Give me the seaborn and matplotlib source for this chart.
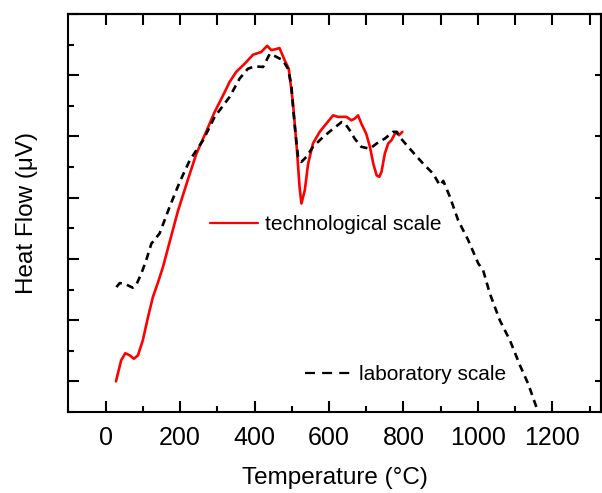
import matplotlib
matplotlib.use("Agg")
import matplotlib.pyplot as plt
import seaborn as sns
import pandas as pd
from matplotlib.lines import Line2D

# ---- data ----
tech_temp = [28, 35, 42, 53, 65, 76, 87, 100, 114, 127, 141, 154, 172, 194, 220, 244, 270, 293,
             320, 333, 351, 374, 396, 418, 434, 445, 457, 467, 481, 492, 503, 514, 521, 526, 535,
             544, 557, 575, 593, 611, 624, 647, 660, 669, 678, 687, 700, 710, 719, 728, 735, 741,
             750, 759, 768, 777, 783, 788, 797]
tech_flow = [0.0, 0.35, 0.69, 0.92, 0.85, 0.74, 0.85, 1.34, 2.1, 2.75, 3.24, 3.73, 4.55, 5.55,
             6.55, 7.44, 8.15, 8.8, 9.45, 9.78, 10.11, 10.38, 10.67, 10.76, 10.96, 10.82, 10.85,
             10.89, 10.49, 10.21, 9.13, 7.55, 6.35, 5.81, 6.24, 7.11, 7.77, 8.15, 8.42, 8.69,
             8.64, 8.64, 8.53, 8.58, 8.69, 8.42, 8.09, 7.66, 7.11, 6.73, 6.68, 6.84, 7.44, 7.77,
             7.88, 8.09, 8.15, 8.04, 8.15]

lab_temp = [29, 38, 51, 73, 82, 96, 109, 123, 145, 172, 199, 226, 262, 293, 333, 360, 382, 400,
            423, 441, 454, 476, 490, 499, 503, 510, 517, 526, 539, 557, 584, 611, 634, 642, 656,
            669, 687, 710, 728, 750, 772, 781, 790, 817, 853, 880, 898, 907, 925, 947, 974, 1001,
            1014, 1032, 1059, 1086, 1113, 1135, 1162]
lab_flow = [3.08, 3.21, 3.19, 3.06, 3.14, 3.52, 3.95, 4.5, 4.83, 5.7, 6.51, 7.22, 7.88, 8.64,
            9.29, 9.89, 10.21, 10.29, 10.27, 10.7, 10.63, 10.49, 10.21, 9.67, 9.02, 8.1, 7.33,
            7.17, 7.33, 7.66, 7.98, 8.25, 8.47, 8.44, 8.2, 7.93, 7.66, 7.6, 7.77, 7.93, 8.15,
            8.15, 7.98, 7.6, 7.11, 6.78, 6.4, 6.55, 6.02, 5.26, 4.61, 3.85, 3.63, 2.87, 1.99,
            1.34, 0.52, -0.08, -1.01]

x_ticks = [0, 200, 400, 600, 800, 1000, 1200]
x_tick_labels = ["0", "200", "400", "600", "800", "1000", "1200"]
series_names = ["technological scale", "laboratory scale"]

tech = pd.DataFrame({"Temperature": tech_temp, "Heat Flow": tech_flow})
lab = pd.DataFrame({"Temperature": lab_temp, "Heat Flow": lab_flow})

sns.set_style("ticks")
plt.rcParams["font.family"] = ["Liberation Sans", "DejaVu Sans"]
plt.rcParams["text.color"] = "black"
plt.rcParams["axes.labelcolor"] = "black"
plt.rcParams["xtick.color"] = "black"
plt.rcParams["ytick.color"] = "black"

fig = plt.figure(figsize=(6.02, 4.93), dpi=100)
ax = fig.add_axes([0.1135, 0.1643, 0.8845, 0.8073])

red_lw = 1.9
black_lw = 1.9
sns.lineplot(data=tech, x="Temperature", y="Heat Flow", ax=ax, color="#ff0000",
             linewidth=red_lw, sort=False, estimator=None)
sns.lineplot(data=lab, x="Temperature", y="Heat Flow", ax=ax, color="black",
             linewidth=black_lw, sort=False, estimator=None)
ax.lines[1].set_dashes([2.8, 2.0])

ax.set_xlim(-100, 1330)
ax.set_ylim(-1, 12)
ax.set_xticks(x_ticks)
ax.set_xticklabels(x_tick_labels)
ax.set_xticks(range(-100, 1400, 100), minor=True)
ax.set_yticks(range(0, 13, 2))
ax.set_yticks(range(-1, 13, 2), minor=True)
ax.set_yticklabels([])

ax.tick_params(which="both", direction="in", width=1.5, colors="black", labelsize=18)
ax.tick_params(which="major", length=8)
ax.tick_params(which="minor", length=4.5)
ax.tick_params(axis="x", pad=10)
for s in ax.spines.values():
    s.set_linewidth(1.5)
    s.set_color("black")
    s.set_visible(True)

top = ax.secondary_xaxis("top")
top.set_xticks(range(0, 1400, 100))
top.set_xticklabels([])
top.tick_params(direction="in", length=8, width=1.5)
top.spines["top"].set_linewidth(1.5)

right = ax.secondary_yaxis("right")
right.set_yticks(range(0, 13, 2))
right.set_yticklabels([])
right.tick_params(direction="in", length=4, width=1.5)
right.spines["right"].set_linewidth(1.5)

ax.set_xlabel("Temperature (°C)", fontsize=17.5, labelpad=12)
ax.set_ylabel("Heat Flow (μV)", fontsize=17.5, labelpad=18)

h1 = Line2D([], [], color="#ff0000", linewidth=1.6)
h2 = Line2D([], [], color="black", linewidth=1.6, dashes=[4.5, 3.2])
leg1 = ax.legend([h1], [series_names[0]], loc="center left", bbox_to_anchor=(0.266, 0.47),
                 frameon=False, fontsize=15, handlelength=2.3, handletextpad=0.35,
                 borderpad=0, borderaxespad=0)
ax.add_artist(leg1)
ax.legend([h2], [series_names[1]], loc="center left", bbox_to_anchor=(0.445, 0.093),
          frameon=False, fontsize=15, handlelength=2.2, handletextpad=0.4,
          borderpad=0, borderaxespad=0)

fig.savefig("out.png", dpi=100)
